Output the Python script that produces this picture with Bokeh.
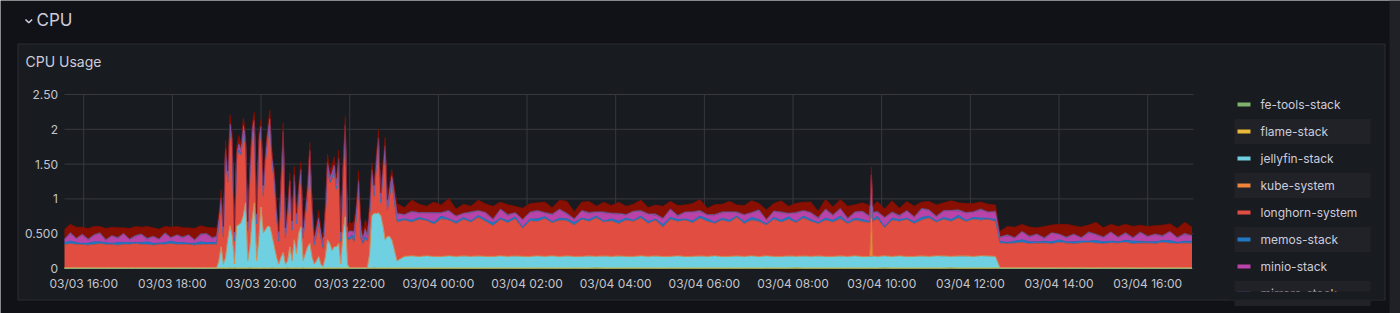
import sys
import pandas as pd
from bokeh.plotting import figure
from bokeh.models import ColumnDataSource, Range1d
from bokeh.core.properties import value
from bokeh.embed import file_html
from bokeh.resources import INLINE

# ------------------------------------------------------------------ data
start_time = "2024-03-03 15:34"
# sample times in minutes after start_time (four stretches of the series)
t_a = list(range(0, 201, 8)) + [206]                      # 27 samples
t_b = list(range(209, 444, 3))                            # 79 samples
t_c = sorted(list(range(450, 1261, 10)) + [1092, 1094])   # 84 samples
t_d = list(range(1266, 1527, 10))                         # 27 samples
window_minutes = 1528

series_names = ["fe-tools-stack", "flame-stack", "jellyfin-stack", "kube-system",
                "longhorn-system", "memos-stack", "minio-stack", "mirrors-stack",
                "monitoring"]
series_colors = ["#7EB26D", "#EAB839", "#6ED0E0", "#EF843C", "#E24D42",
                 "#1F78C1", "#BA43A9", "#705DA0", "#890F02"]

x_tick_labels = ["03/03 16:00", "03/03 18:00", "03/03 20:00", "03/03 22:00",
                 "03/04 00:00", "03/04 02:00", "03/04 04:00", "03/04 06:00",
                 "03/04 08:00", "03/04 10:00", "03/04 12:00", "03/04 14:00",
                 "03/04 16:00"]
tick_year = "2024"
y_ticks = [0, 0.5, 1, 1.5, 2, 2.5]
y_tick_labels = ["0", "0.500", "1", "1.50", "2", "2.50"]

# ---- fe-tools-stack
fe_tools_a = [0.003, 0.004, 0.003, 0.003, 0.004, 0.003, 0.003, 0.004, 0.003, 0.003,
              0.004, 0.003, 0.003, 0.004, 0.003, 0.003, 0.004, 0.003, 0.003, 0.004,
              0.003, 0.003, 0.004, 0.003, 0.003, 0.004, 0.003]
fe_tools_b = [0.003, 0.003, 0.004, 0.003, 0.003, 0.004, 0.003, 0.004, 0.003, 0.003,
              0.004, 0.003, 0.003, 0.003, 0.004, 0.003, 0.003, 0.004, 0.003, 0.003,
              0.003, 0.004, 0.003, 0.003, 0.004, 0.003, 0.003, 0.003, 0.004, 0.003,
              0.003, 0.004, 0.003, 0.003, 0.003, 0.004, 0.003, 0.003, 0.004, 0.003,
              0.004, 0.003, 0.003, 0.004, 0.003, 0.003, 0.003, 0.004, 0.003, 0.003,
              0.003, 0.003, 0.004, 0.003, 0.004, 0.003, 0.003, 0.003, 0.004, 0.003,
              0.003, 0.004, 0.003, 0.003, 0.003, 0.004, 0.003, 0.004, 0.003, 0.003,
              0.004, 0.003, 0.003, 0.004, 0.003, 0.003, 0.004, 0.003, 0.003]
fe_tools_c = [0.003, 0.004, 0.003, 0.003, 0.004, 0.003, 0.003, 0.004, 0.003, 0.003,
              0.003, 0.003, 0.004, 0.003, 0.003, 0.004, 0.003, 0.003, 0.003, 0.004,
              0.004, 0.003, 0.003, 0.003, 0.004, 0.003, 0.003, 0.004, 0.003, 0.003,
              0.003, 0.004, 0.003, 0.004, 0.003, 0.003, 0.003, 0.004, 0.003, 0.003,
              0.003, 0.003, 0.004, 0.003, 0.003, 0.004, 0.003, 0.003, 0.004, 0.003,
              0.004, 0.003, 0.003, 0.003, 0.004, 0.003, 0.004, 0.003, 0.003, 0.003,
              0.003, 0.004, 0.003, 0.003, 0.004, 0.003, 0.003, 0.003, 0.004, 0.003,
              0.003, 0.003, 0.004, 0.003, 0.003, 0.004, 0.003, 0.004, 0.003, 0.003,
              0.004, 0.003, 0.003, 0.004]
fe_tools_d = [0.003, 0.003, 0.004, 0.003, 0.003, 0.004, 0.003, 0.003, 0.003, 0.004,
              0.003, 0.004, 0.003, 0.003, 0.004, 0.003, 0.003, 0.004, 0.003, 0.003,
              0.004, 0.003, 0.003, 0.003, 0.004, 0.003, 0.003]

# ---- flame-stack
flame_a = [0.004, 0.004, 0.005, 0.004, 0.004, 0.005, 0.004, 0.004, 0.004, 0.005,
           0.004, 0.005, 0.004, 0.004, 0.004, 0.005, 0.004, 0.004, 0.005, 0.004,
           0.004, 0.005, 0.004, 0.004, 0.004, 0.005, 0.004]
flame_b = [0.004, 0.005, 0.004, 0.004, 0.004, 0.005, 0.004, 0.005, 0.004, 0.004,
           0.004, 0.004, 0.005, 0.004, 0.005, 0.004, 0.004, 0.004, 0.005, 0.004,
           0.005, 0.004, 0.004, 0.004, 0.005, 0.004, 0.004, 0.005, 0.004, 0.004,
           0.004, 0.005, 0.004, 0.004, 0.005, 0.004, 0.004, 0.004, 0.005, 0.004,
           0.004, 0.004, 0.005, 0.004, 0.004, 0.005, 0.004, 0.004, 0.004, 0.005,
           0.005, 0.004, 0.004, 0.005, 0.004, 0.004, 0.004, 0.005, 0.004, 0.004,
           0.004, 0.005, 0.004, 0.004, 0.005, 0.004, 0.004, 0.005, 0.004, 0.004,
           0.005, 0.004, 0.004, 0.004, 0.005, 0.004, 0.004, 0.005, 0.004]
flame_c = [0.004, 0.004, 0.005, 0.004, 0.004, 0.005, 0.004, 0.004, 0.005, 0.004,
           0.005, 0.004, 0.004, 0.004, 0.005, 0.004, 0.004, 0.005, 0.004, 0.004,
           0.004, 0.005, 0.004, 0.004, 0.004, 0.005, 0.004, 0.005, 0.004, 0.004,
           0.004, 0.004, 0.005, 0.004, 0.005, 0.004, 0.004, 0.004, 0.005, 0.004,
           0.005, 0.004, 0.004, 0.005, 0.004, 0.004, 0.004, 0.005, 0.004, 0.004,
           0.004, 0.005, 0.004, 0.004, 0.005, 0.004, 0.004, 0.004, 0.005, 0.004,
           0.004, 0.004, 0.005, 0.004, 0.004, 0.005, 0.004, 0.004, 0.005, 0.004,
           0.005, 0.004, 0.004, 0.004, 0.005, 0.004, 0.004, 0.005, 0.004, 0.004,
           0.004, 0.005, 0.004, 0.004]
flame_d = [0.004, 0.005, 0.004, 0.004, 0.005, 0.004, 0.004, 0.004, 0.005, 0.004,
           0.004, 0.005, 0.004, 0.004, 0.004, 0.005, 0.004, 0.005, 0.004, 0.004,
           0.004, 0.005, 0.004, 0.004, 0.005, 0.004, 0.004]

# ---- jellyfin-stack
jellyfin_a = [0, 0, 0, 0, 0, 0, 0, 0, 0, 0,
              0, 0, 0, 0, 0, 0, 0, 0, 0, 0,
              0, 0, 0, 0, 0, 0, 0]
jellyfin_b = [0.10, 0.30, 0.05, 0.15, 0.40, 0.60, 0.45, 0.05, 0.60, 0.62,
              0.65, 0.75, 0.93, 0.10, 0.30, 0.70, 0.93, 0.10, 0.40, 0.87,
              0.50, 0.55, 0.60, 0.59, 0.45, 0.30, 0.15, 0.05, 0.15, 0.22,
              0.05, 0.10, 0.30, 0.10, 0.40, 0.20, 0.50, 0.59, 0.10, 0.20,
              0.30, 0.35, 0.15, 0.05, 0.10, 0.16, 0.05, 0.02, 0.15, 0.40,
              0.35, 0.25, 0.30, 0.30, 0.35, 0.05, 0.50, 0.73, 0.05, 0.00,
              0.00, 0.00, 0.00, 0.00, 0.00, 0.00, 0.00, 0.00, 0.20, 0.75,
              0.78, 0.78, 0.79, 0.75, 0.60, 0.40, 0.45, 0.45, 0.40]
jellyfin_c = [0.10, 0.16, 0.17, 0.16, 0.17, 0.16, 0.16, 0.17, 0.16, 0.17,
              0.16, 0.17, 0.16, 0.16, 0.17, 0.16, 0.17, 0.16, 0.16, 0.17,
              0.16, 0.17, 0.16, 0.17, 0.16, 0.16, 0.17, 0.16, 0.17, 0.16,
              0.17, 0.16, 0.16, 0.17, 0.16, 0.17, 0.16, 0.16, 0.17, 0.16,
              0.16, 0.17, 0.16, 0.17, 0.16, 0.16, 0.17, 0.16, 0.17, 0.16,
              0.17, 0.16, 0.16, 0.17, 0.16, 0.17, 0.16, 0.17, 0.16, 0.16,
              0.17, 0.16, 0.17, 0.16, 0.16, 0.16, 0.17, 0.16, 0.17, 0.16,
              0.17, 0.16, 0.16, 0.17, 0.16, 0.17, 0.17, 0.16, 0.17, 0.17,
              0.16, 0.17, 0.17, 0.16]
jellyfin_d = [0, 0, 0, 0, 0, 0, 0, 0, 0, 0,
              0, 0, 0, 0, 0, 0, 0, 0, 0, 0,
              0, 0, 0, 0, 0, 0, 0]

# ---- kube-system
kube_a = [0.006, 0.007, 0.006, 0.006, 0.007, 0.006, 0.007, 0.006, 0.006, 0.007,
          0.006, 0.006, 0.007, 0.006, 0.007, 0.006, 0.006, 0.007, 0.006, 0.006,
          0.007, 0.006, 0.006, 0.007, 0.006, 0.007, 0.006]
kube_b = [0.006, 0.007, 0.006, 0.008, 0.006, 0.007, 0.006, 0.006, 0.007, 0.006,
          0.007, 0.006, 0.006, 0.007, 0.006, 0.008, 0.006, 0.007, 0.006, 0.006,
          0.006, 0.007, 0.006, 0.006, 0.007, 0.006, 0.007, 0.006, 0.006, 0.007,
          0.006, 0.006, 0.007, 0.006, 0.008, 0.006, 0.006, 0.007, 0.006, 0.006,
          0.007, 0.006, 0.006, 0.007, 0.006, 0.006, 0.007, 0.006, 0.008, 0.006,
          0.006, 0.007, 0.006, 0.006, 0.007, 0.006, 0.006, 0.007, 0.006, 0.006,
          0.007, 0.006, 0.006, 0.007, 0.006, 0.006, 0.007, 0.006, 0.006, 0.007,
          0.006, 0.006, 0.007, 0.006, 0.006, 0.007, 0.006, 0.006, 0.007]
kube_c = [0.006, 0.007, 0.006, 0.006, 0.007, 0.006, 0.006, 0.007, 0.006, 0.007,
          0.006, 0.006, 0.007, 0.006, 0.006, 0.007, 0.006, 0.008, 0.006, 0.006,
          0.007, 0.006, 0.006, 0.007, 0.006, 0.006, 0.007, 0.006, 0.006, 0.007,
          0.006, 0.007, 0.006, 0.006, 0.007, 0.006, 0.006, 0.007, 0.006, 0.006,
          0.007, 0.006, 0.006, 0.008, 0.006, 0.007, 0.006, 0.006, 0.007, 0.006,
          0.006, 0.007, 0.006, 0.006, 0.007, 0.006, 0.007, 0.006, 0.006, 0.007,
          0.006, 0.006, 0.007, 0.006, 0.006, 0.550, 0.006, 0.007, 0.006, 0.006,
          0.007, 0.006, 0.006, 0.007, 0.006, 0.006, 0.007, 0.006, 0.007, 0.006,
          0.006, 0.007, 0.006, 0.006]
kube_d = [0.006, 0.007, 0.006, 0.006, 0.007, 0.006, 0.006, 0.007, 0.006, 0.006,
          0.007, 0.006, 0.007, 0.006, 0.006, 0.007, 0.006, 0.006, 0.007, 0.006,
          0.006, 0.007, 0.006, 0.006, 0.007, 0.006, 0.006]

# ---- longhorn-system
longhorn_a = [0.33, 0.34, 0.33, 0.33, 0.32, 0.33, 0.34, 0.33, 0.33, 0.32,
              0.33, 0.33, 0.34, 0.33, 0.33, 0.32, 0.33, 0.33, 0.34, 0.33,
              0.33, 0.33, 0.32, 0.33, 0.33, 0.33, 0.33]
longhorn_b = [0.51, 0.61, 0.36, 1.46, 0.81, 1.34, 1.26, 0.31, 0.96, 1.04,
              0.96, 1.16, 0.83, 0.41, 1.01, 1.16, 1.10, 0.51, 1.31, 1.06,
              0.51, 0.96, 1.21, 1.44, 1.01, 0.91, 0.56, 0.31, 0.96, 1.62,
              0.36, 0.61, 0.86, 0.41, 0.82, 0.41, 0.51, 0.72, 0.31, 0.51,
              0.71, 1.23, 0.66, 0.26, 0.36, 0.45, 0.36, 0.24, 0.56, 1.01,
              0.86, 1.01, 1.07, 0.81, 1.12, 0.31, 0.81, 1.21, 0.36, 0.39,
              0.43, 0.36, 0.71, 1.11, 0.41, 0.33, 0.41, 0.37, 0.51, 0.56,
              0.23, 0.63, 0.97, 0.16, 0.71, 1.25, 0.36, 0.56, 0.80]
longhorn_c = [0.55, 0.52, 0.48, 0.53, 0.50, 0.46, 0.54, 0.51, 0.47, 0.52,
              0.49, 0.55, 0.50, 0.44, 0.52, 0.48, 0.53, 0.40, 0.51, 0.49,
              0.54, 0.47, 0.52, 0.50, 0.45, 0.53, 0.49, 0.55, 0.48, 0.51,
              0.46, 0.52, 0.50, 0.54, 0.47, 0.51, 0.42, 0.53, 0.49, 0.52,
              0.48, 0.54, 0.50, 0.46, 0.52, 0.49, 0.55, 0.47, 0.51, 0.50,
              0.44, 0.53, 0.49, 0.52, 0.48, 0.54, 0.50, 0.46, 0.52, 0.49,
              0.53, 0.47, 0.51, 0.50, 0.48, 0.52, 0.49, 0.54, 0.40, 0.52,
              0.49, 0.53, 0.47, 0.51, 0.55, 0.48, 0.52, 0.50, 0.54, 0.49,
              0.53, 0.51, 0.52, 0.50]
longhorn_d = [0.35, 0.34, 0.35, 0.36, 0.34, 0.35, 0.35, 0.34, 0.36, 0.35,
              0.34, 0.35, 0.36, 0.35, 0.34, 0.35, 0.35, 0.36, 0.34, 0.35,
              0.35, 0.34, 0.36, 0.35, 0.34, 0.35, 0.35]

# ---- memos-stack
memos_a = [0.03, 0.04, 0.03, 0.02, 0.03, 0.04, 0.03, 0.03, 0.02, 0.04,
           0.03, 0.03, 0.02, 0.03, 0.04, 0.03, 0.02, 0.03, 0.04, 0.03,
           0.03, 0.02, 0.03, 0.04, 0.03, 0.03, 0.03]
memos_b = [0.02, 0.02, 0.03, 0.02, 0.02, 0.03, 0.02, 0.02, 0.02, 0.03,
           0.02, 0.03, 0.02, 0.02, 0.02, 0.03, 0.02, 0.02, 0.03, 0.02,
           0.02, 0.02, 0.03, 0.02, 0.02, 0.02, 0.03, 0.02, 0.02, 0.03,
           0.02, 0.02, 0.02, 0.03, 0.02, 0.02, 0.03, 0.02, 0.02, 0.02,
           0.03, 0.02, 0.02, 0.02, 0.03, 0.02, 0.02, 0.03, 0.02, 0.02,
           0.02, 0.03, 0.02, 0.02, 0.03, 0.02, 0.02, 0.02, 0.03, 0.03,
           0.04, 0.03, 0.02, 0.04, 0.03, 0.03, 0.04, 0.02, 0.03, 0.02,
           0.02, 0.03, 0.02, 0.02, 0.03, 0.02, 0.02, 0.03, 0.02]
memos_c = [0.03, 0.02, 0.03, 0.03, 0.02, 0.03, 0.04, 0.02, 0.03, 0.03,
           0.02, 0.03, 0.03, 0.04, 0.02, 0.03, 0.03, 0.02, 0.03, 0.04,
           0.03, 0.02, 0.03, 0.03, 0.04, 0.02, 0.03, 0.03, 0.02, 0.03,
           0.04, 0.03, 0.02, 0.03, 0.03, 0.02, 0.04, 0.03, 0.03, 0.02,
           0.03, 0.03, 0.04, 0.02, 0.03, 0.03, 0.02, 0.03, 0.04, 0.03,
           0.02, 0.03, 0.03, 0.04, 0.02, 0.03, 0.03, 0.02, 0.03, 0.03,
           0.04, 0.02, 0.03, 0.03, 0.02, 0.03, 0.03, 0.04, 0.02, 0.03,
           0.03, 0.02, 0.03, 0.04, 0.03, 0.02, 0.03, 0.03, 0.04, 0.02,
           0.03, 0.03, 0.02, 0.03]
memos_d = [0.03, 0.02, 0.03, 0.04, 0.03, 0.02, 0.03, 0.03, 0.04, 0.02,
           0.03, 0.03, 0.02, 0.04, 0.03, 0.03, 0.02, 0.03, 0.04, 0.03,
           0.02, 0.03, 0.03, 0.04, 0.02, 0.03, 0.03]

# ---- minio-stack
minio_a = [0.04, 0.10, 0.05, 0.12, 0.04, 0.09, 0.11, 0.03, 0.10, 0.05,
           0.12, 0.04, 0.08, 0.11, 0.03, 0.09, 0.05, 0.12, 0.04, 0.10,
           0.06, 0.11, 0.04, 0.09, 0.12, 0.05, 0.08]
minio_b = [0.05, 0.06, 0.04, 0.07, 0.05, 0.08, 0.06, 0.04, 0.05, 0.07,
           0.05, 0.08, 0.06, 0.04, 0.05, 0.07, 0.06, 0.04, 0.05, 0.07,
           0.06, 0.05, 0.07, 0.08, 0.05, 0.06, 0.04, 0.05, 0.06, 0.07,
           0.04, 0.05, 0.06, 0.04, 0.07, 0.05, 0.06, 0.07, 0.04, 0.05,
           0.06, 0.07, 0.05, 0.04, 0.05, 0.06, 0.04, 0.05, 0.06, 0.07,
           0.05, 0.06, 0.07, 0.05, 0.06, 0.04, 0.06, 0.07, 0.05, 0.09,
           0.04, 0.11, 0.06, 0.08, 0.10, 0.04, 0.09, 0.05, 0.06, 0.07,
           0.05, 0.06, 0.07, 0.05, 0.06, 0.07, 0.05, 0.06, 0.08]
minio_c = [0.08, 0.05, 0.11, 0.06, 0.09, 0.12, 0.04, 0.10, 0.07, 0.05,
           0.11, 0.06, 0.09, 0.04, 0.12, 0.07, 0.05, 0.10, 0.08, 0.11,
           0.05, 0.09, 0.12, 0.06, 0.04, 0.10, 0.08, 0.05, 0.11, 0.07,
           0.09, 0.04, 0.12, 0.06, 0.10, 0.05, 0.08, 0.11, 0.04, 0.09,
           0.12, 0.06, 0.05, 0.10, 0.07, 0.11, 0.04, 0.09, 0.06, 0.12,
           0.05, 0.08, 0.10, 0.04, 0.11, 0.07, 0.09, 0.05, 0.12, 0.06,
           0.10, 0.04, 0.08, 0.11, 0.06, 0.07, 0.09, 0.05, 0.12, 0.07,
           0.04, 0.10, 0.06, 0.11, 0.08, 0.05, 0.09, 0.12, 0.06, 0.10,
           0.07, 0.11, 0.08, 0.10]
minio_d = [0.05, 0.09, 0.04, 0.11, 0.06, 0.10, 0.03, 0.12, 0.07, 0.05,
           0.10, 0.04, 0.11, 0.08, 0.05, 0.12, 0.06, 0.09, 0.04, 0.11,
           0.07, 0.10, 0.05, 0.12, 0.06, 0.09, 0.07]

# ---- mirrors-stack
mirrors_a = [0.01, 0.02, 0.01, 0.01, 0.02, 0.01, 0.02, 0.01, 0.01, 0.02,
             0.01, 0.01, 0.02, 0.01, 0.02, 0.01, 0.01, 0.02, 0.01, 0.01,
             0.02, 0.01, 0.01, 0.02, 0.01, 0.02, 0.01]
mirrors_b = [0.01, 0.01, 0.02, 0.01, 0.01, 0.01, 0.02, 0.01, 0.01, 0.02,
             0.01, 0.02, 0.01, 0.01, 0.01, 0.02, 0.01, 0.01, 0.02, 0.01,
             0.01, 0.01, 0.02, 0.01, 0.01, 0.02, 0.01, 0.01, 0.01, 0.02,
             0.01, 0.02, 0.01, 0.01, 0.02, 0.01, 0.01, 0.01, 0.02, 0.01,
             0.01, 0.02, 0.01, 0.01, 0.01, 0.02, 0.01, 0.02, 0.01, 0.01,
             0.02, 0.01, 0.01, 0.02, 0.01, 0.01, 0.01, 0.02, 0.01, 0.02,
             0.01, 0.02, 0.01, 0.02, 0.01, 0.01, 0.02, 0.01, 0.02, 0.01,
             0.01, 0.02, 0.01, 0.01, 0.02, 0.01, 0.01, 0.02, 0.01]
mirrors_c = [0.02, 0.01, 0.02, 0.01, 0.01, 0.02, 0.01, 0.02, 0.01, 0.01,
             0.02, 0.01, 0.01, 0.02, 0.01, 0.02, 0.01, 0.01, 0.02, 0.01,
             0.01, 0.02, 0.01, 0.02, 0.01, 0.01, 0.02, 0.01, 0.02, 0.01,
             0.02, 0.01, 0.01, 0.02, 0.01, 0.02, 0.01, 0.01, 0.02, 0.01,
             0.01, 0.02, 0.01, 0.01, 0.02, 0.01, 0.02, 0.01, 0.01, 0.02,
             0.01, 0.01, 0.02, 0.01, 0.02, 0.01, 0.01, 0.02, 0.01, 0.02,
             0.01, 0.02, 0.01, 0.01, 0.02, 0.01, 0.01, 0.02, 0.01, 0.02,
             0.02, 0.01, 0.01, 0.02, 0.01, 0.02, 0.01, 0.01, 0.02, 0.01,
             0.01, 0.02, 0.01, 0.02]
mirrors_d = [0.01, 0.02, 0.01, 0.01, 0.02, 0.01, 0.02, 0.01, 0.01, 0.02,
             0.01, 0.01, 0.02, 0.01, 0.02, 0.01, 0.01, 0.02, 0.01, 0.02,
             0.01, 0.01, 0.02, 0.01, 0.01, 0.02, 0.01]

# ---- topmost (dark red) series; its legend row is scrolled out of view
monitoring_a = [0.14, 0.12, 0.16, 0.10, 0.15, 0.12, 0.09, 0.16, 0.12, 0.14,
                0.08, 0.15, 0.13, 0.10, 0.17, 0.12, 0.14, 0.09, 0.15, 0.12,
                0.13, 0.10, 0.16, 0.12, 0.09, 0.14, 0.12]
monitoring_b = [0.10, 0.12, 0.09, 0.11, 0.10, 0.13, 0.11, 0.08, 0.10, 0.12,
                0.09, 0.11, 0.10, 0.08, 0.12, 0.10, 0.11, 0.09, 0.12, 0.10,
                0.08, 0.11, 0.10, 0.12, 0.09, 0.10, 0.11, 0.08, 0.10, 0.12,
                0.09, 0.10, 0.11, 0.08, 0.12, 0.09, 0.10, 0.11, 0.08, 0.10,
                0.12, 0.11, 0.09, 0.08, 0.10, 0.11, 0.09, 0.08, 0.10, 0.12,
                0.10, 0.11, 0.12, 0.09, 0.11, 0.08, 0.10, 0.12, 0.09, 0.13,
                0.11, 0.15, 0.12, 0.14, 0.16, 0.10, 0.13, 0.15, 0.11, 0.10,
                0.09, 0.11, 0.12, 0.08, 0.10, 0.12, 0.09, 0.11, 0.10]
monitoring_c = [0.14, 0.10, 0.16, 0.12, 0.09, 0.15, 0.11, 0.17, 0.10, 0.13,
                0.08, 0.15, 0.12, 0.18, 0.10, 0.14, 0.09, 0.16, 0.12, 0.11,
                0.15, 0.09, 0.13, 0.17, 0.10, 0.12, 0.16, 0.08, 0.14, 0.11,
                0.16, 0.12, 0.10, 0.15, 0.09, 0.13, 0.17, 0.11, 0.14, 0.10,
                0.12, 0.16, 0.09, 0.14, 0.11, 0.15, 0.10, 0.13, 0.17, 0.09,
                0.14, 0.11, 0.16, 0.10, 0.13, 0.12, 0.15, 0.09, 0.14, 0.11,
                0.13, 0.17, 0.10, 0.12, 0.15, 0.11, 0.09, 0.14, 0.12, 0.16,
                0.10, 0.13, 0.15, 0.09, 0.12, 0.16, 0.11, 0.14, 0.10, 0.13,
                0.12, 0.10, 0.11, 0.09]
monitoring_d = [0.08, 0.12, 0.15, 0.10, 0.13, 0.09, 0.16, 0.11, 0.14, 0.18,
                0.12, 0.15, 0.10, 0.17, 0.13, 0.11, 0.15, 0.12, 0.16, 0.10,
                0.14, 0.12, 0.15, 0.11, 0.13, 0.16, 0.12]

segment_times = [t_a, t_b, t_c, t_d]
series_values = [
    [fe_tools_a, fe_tools_b, fe_tools_c, fe_tools_d],
    [flame_a, flame_b, flame_c, flame_d],
    [jellyfin_a, jellyfin_b, jellyfin_c, jellyfin_d],
    [kube_a, kube_b, kube_c, kube_d],
    [longhorn_a, longhorn_b, longhorn_c, longhorn_d],
    [memos_a, memos_b, memos_c, memos_d],
    [minio_a, minio_b, minio_c, minio_d],
    [mirrors_a, mirrors_b, mirrors_c, mirrors_d],
    [monitoring_a, monitoring_b, monitoring_c, monitoring_d],
]

# ------------------------------------------------------------------ assemble
minutes = []
cols = {name: [] for name in series_names}
for k, tk in enumerate(segment_times):
    nk = min([len(tk)] + [len(s[k]) for s in series_values])
    for name, s in zip(series_names, series_values):
        if len(s[k]) != len(tk):
            print(f"segment {k}: {name} has {len(s[k])} values for {len(tk)} times",
                  file=sys.stderr)
    minutes += tk[:nk]
    for name, s in zip(series_names, series_values):
        cols[name] += [float(v) for v in s[k][:nk]]

t0 = pd.Timestamp(start_time)
times = (t0 + pd.to_timedelta(minutes, unit="m")).values
data = {"t": times}
data.update(cols)
src = ColumnDataSource(data=data)


def to_ms(ts):
    return float(ts.value // 10**6)


x_tick_ms = [to_ms(pd.Timestamp(tick_year + "/" + lab)) for lab in x_tick_labels]

# ------------------------------------------------------------------ layout / style
W, H = 1400, 313
CH_L, CH_R, CH_T, CH_B = 64, 1193, 94, 268     # chart area in canvas pixels
X0 = to_ms(t0)
X1 = X0 + window_minutes * 60000.0
Y0, Y1 = 0.0, 2.5
ms_per_px = (X1 - X0) / (CH_R - CH_L)
val_per_px = (Y1 - Y0) / (CH_B - CH_T)


def time_at(px):
    return X0 + (px - CH_L) * ms_per_px


def val_at(py):
    return Y0 + (CH_B - py) * val_per_px


PAGE = "#111217"
PANEL = "#181b1f"
PANEL_LINE = "#2b2d32"
GRID = "#37393e"
TEXT = "#ccccdc"
AXIS_TEXT = "#c4c5cd"
ROW_BG = "#202227"
STRIP = "#202126"
FONT = value("Inter")
LEGEND_VIEW_BOTTOM = 291

# canvas in pixel units (y downwards); chart drawn on extra ranges
p = figure(width=W, height=H, output_backend="svg", toolbar_location=None, tools="",
           x_range=Range1d(0, W), y_range=Range1d(H, 0),
           x_axis_location=None, y_axis_location=None,
           min_border=0, min_border_left=0, min_border_right=0,
           min_border_top=0, min_border_bottom=0,
           background_fill_color=PAGE, border_fill_color=PAGE,
           outline_line_color=None)
p.grid.visible = False
p.extra_x_ranges = {"time": Range1d(time_at(0), time_at(W))}
p.extra_y_ranges = {"val": Range1d(val_at(H), val_at(0))}
TR = dict(x_range_name="time", y_range_name="val")

# panel and page chrome
p.quad(left=[17.5], right=[1384.5], top=[43.5], bottom=[299.5],
       fill_color=PANEL, line_color=PANEL_LINE, line_width=1)
p.quad(left=[1389], right=[1400], top=[0], bottom=[313],
       fill_color=STRIP, line_color=None)

# grid
p.segment(x0=x_tick_ms, x1=x_tick_ms, y0=[Y0] * len(x_tick_ms), y1=[Y1] * len(x_tick_ms),
          line_color=GRID, line_width=1, **TR)
p.segment(x0=[X0] * len(y_ticks), x1=[X1] * len(y_ticks), y0=y_ticks, y1=y_ticks,
          line_color=GRID, line_width=1, **TR)

# stacked series
p.varea_stack(stackers=series_names, x="t", source=src,
              fill_color=series_colors, fill_alpha=1.0, **TR)
p.vline_stack(stackers=series_names, x="t", source=src,
              line_color=series_colors, line_width=0.7, **TR)

# axis labels
p.text(x=x_tick_ms, y=[val_at(282.5)] * len(x_tick_ms), text=x_tick_labels,
       text_font=FONT, text_font_size="12px", text_color=AXIS_TEXT,
       text_align="center", text_baseline="middle", **TR)
p.text(x=[time_at(57.5)] * len(y_ticks), y=y_ticks, text=y_tick_labels,
       text_font=FONT, text_font_size="12px", text_color=AXIS_TEXT,
       text_align="right", text_baseline="middle", **TR)

# row header chevron + titles
p.line(x=[25.0, 28.3, 31.6], y=[19.0, 22.3, 19.0], line_color=TEXT, line_width=1.6)
p.text(x=[36], y=[19.5], text=["CPU"], text_font=FONT, text_font_size="17px",
       text_color=TEXT, text_align="left", text_baseline="middle")
p.text(x=[25], y=[61], text=["CPU Usage"], text_font=FONT, text_font_size="14px",
       text_color=TEXT, text_align="left", text_baseline="middle")

# legend list (scrolled viewport: only rows starting above its bottom edge show)
rows = [(name, col, 104 + 27 * i) for i, (name, col) in enumerate(zip(series_names, series_colors))
        if 104 + 27 * i - 12.5 < LEGEND_VIEW_BOTTOM]
odd = [r for j, r in enumerate(rows) if j % 2 == 1]
p.quad(left=[1234] * len(odd), right=[1370] * len(odd),
       top=[r[2] - 12.5 for r in odd], bottom=[r[2] + 12.5 for r in odd],
       fill_color=ROW_BG, line_color=None)
p.quad(left=[1237] * len(rows), right=[1250] * len(rows),
       top=[r[2] - 2 for r in rows], bottom=[r[2] + 2 for r in rows],
       fill_color=[r[1] for r in rows], line_color=None)
p.text(x=[1260] * len(rows), y=[r[2] for r in rows], text=[r[0] for r in rows],
       text_font=FONT, text_font_size="12px", text_color=TEXT,
       text_align="left", text_baseline="middle")
# legend viewport bottom edge
p.quad(left=[1228], right=[1383.5], top=[LEGEND_VIEW_BOTTOM], bottom=[299],
       fill_color=PANEL, line_color=None)

open("out.html", "w").write(file_html(p, INLINE))
